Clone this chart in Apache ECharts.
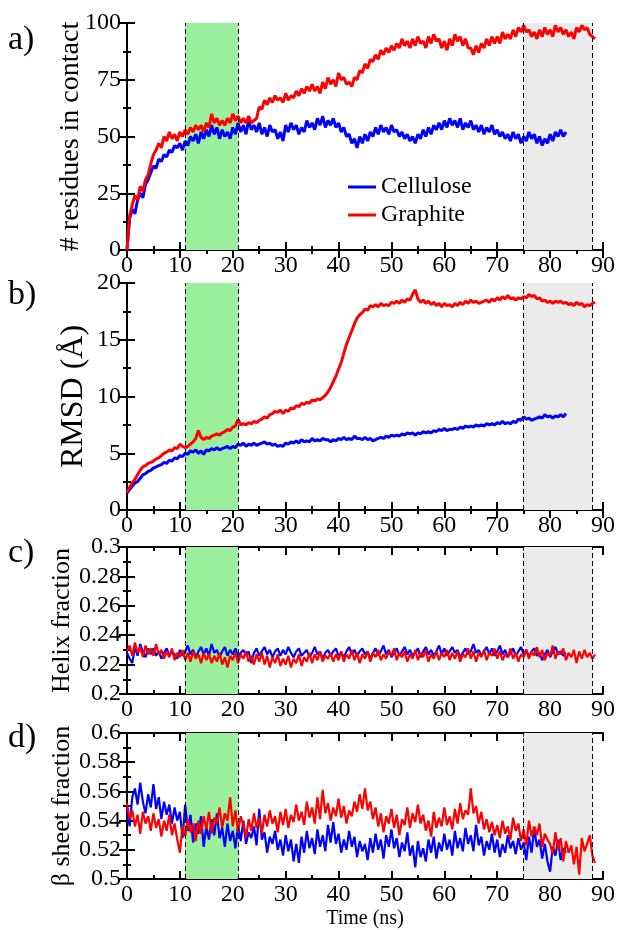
<!DOCTYPE html>
<html><head><meta charset="utf-8">
<script src="https://cdn.jsdelivr.net/npm/echarts@6/dist/echarts.min.js"></script>
<style>html,body{margin:0;padding:0;background:#fff}#c{width:621px;height:930px}</style>
</head><body><div id="c"></div>
<script>
const DT = 0.5; // ns between samples
const seriesNames = ['Cellulose', 'Graphite'];
const panelLabels = ['a)', 'b)', 'c)', 'd)'];
const yTitles = ['# residues in contact', 'RMSD (\u00C5)', 'Helix fraction', '\u03B2 sheet fraction'];
const xTitle = 'Time (ns)';
const greenWindow = [11, 21];
const grayWindow = [75, 88];

const contactCellulose = [
0,14,18,16,22,25,23,29,31,34,
37,36,40,39,42,41,44,43,46,45,
47,44,48,46,50,48,51,47,52,49,
53,50,55,51,54,49,53,50,52,49,
54,51,56,52,55,51,57,53,55,52,
56,51,54,50,55,52,53,49,52,48,
55,52,56,53,55,51,54,52,57,54,
56,53,58,55,59,54,57,55,58,54,
56,52,54,50,51,47,49,45,50,47,
51,48,52,50,54,51,55,52,54,51,
55,52,53,50,52,49,51,48,50,47,
51,49,53,50,54,51,55,53,56,53,
57,54,58,55,57,54,58,53,56,54,
57,53,55,52,55,51,54,52,55,51,
53,50,52,49,51,48,52,49,51,47,
50,48,52,49,51,47,50,46,49,47,
51,48,52,50,53,50,52];
const contactGraphite = [
0,15,20,24,22,28,26,31,33,38,
42,44,47,45,50,48,52,49,51,48,
52,50,53,51,54,52,55,53,55,52,
56,54,60,56,58,55,57,55,58,56,
60,57,59,56,58,56,59,56,57,58,
63,62,66,64,67,65,68,66,67,65,
69,66,68,67,70,68,71,69,72,70,
73,70,72,69,74,71,76,73,75,72,
78,75,76,73,74,72,76,75,79,78,
82,80,84,83,86,84,88,86,89,87,
90,88,91,89,93,90,92,89,93,90,
94,91,92,89,94,91,95,92,93,89,
92,88,93,90,95,92,94,90,93,89,
89,86,90,87,91,89,93,90,94,91,
94,91,96,93,95,93,97,94,98,96,
99,96,97,94,96,93,97,94,98,95,
97,94,99,96,98,95,97,94,96,93,
98,96,99,97,98,95,94,93];

const rmsdCellulose = [
1.5,1.8,2.1,2.4,2.5,2.8,3.1,3.2,3.4,3.5,
3.7,3.8,3.9,4.0,4.2,4.1,4.4,4.3,4.6,4.5,
4.8,4.7,5.0,4.9,5.2,5.1,5.3,5.0,5.2,4.9,
5.3,5.2,5.4,5.3,5.5,5.3,5.4,5.5,5.6,5.4,
5.6,5.5,5.8,5.7,5.9,5.6,5.8,5.7,5.9,5.7,
5.8,5.9,6.0,5.8,5.9,5.7,5.8,5.6,5.7,5.6,
5.9,5.8,6.0,5.9,6.1,5.9,6.2,6.0,6.1,6.0,
6.3,6.1,6.2,6.1,6.3,6.2,6.2,6.0,6.2,6.1,
6.3,6.2,6.4,6.2,6.3,6.2,6.5,6.3,6.3,6.2,
6.4,6.2,6.3,6.1,6.2,6.3,6.4,6.3,6.5,6.4,
6.6,6.5,6.6,6.5,6.7,6.6,6.8,6.7,6.8,6.6,
6.8,6.7,6.9,6.8,6.9,6.8,7.0,6.9,7.1,7.0,
7.2,7.0,7.1,7.1,7.2,7.1,7.3,7.2,7.4,7.3,
7.4,7.3,7.5,7.4,7.5,7.4,7.6,7.5,7.6,7.5,
7.7,7.6,7.8,7.6,7.7,7.6,7.8,7.7,8.0,7.9,
8.2,8.0,8.1,7.9,8.0,8.1,8.2,8.1,8.4,8.2,
8.3,8.1,8.3,8.2,8.4,8.2,8.5];
const rmsdGraphite = [
1.5,2.0,2.4,2.7,3.1,3.5,3.8,3.9,4.1,4.2,
4.3,4.5,4.6,4.8,5.0,5.1,5.3,5.2,5.5,5.4,
5.8,5.6,5.5,5.6,5.8,6.0,6.3,7.0,6.4,6.2,
6.4,6.3,6.5,6.6,6.7,6.6,6.8,6.9,7.1,7.0,
7.3,7.4,8.0,7.5,7.6,7.5,7.7,7.6,7.8,7.7,
7.9,8.0,8.2,8.1,8.4,8.5,8.7,8.6,8.8,8.5,
8.8,8.7,9.0,8.9,9.2,9.1,9.4,9.3,9.5,9.4,
9.7,9.6,9.8,9.7,9.9,10.1,10.4,10.8,11.3,11.8,
12.4,13.0,13.8,14.6,15.2,15.8,16.4,16.9,17.2,17.4,
17.7,17.6,18.0,17.9,18.1,17.9,18.2,18.0,18.1,18.0,
18.3,18.2,18.4,18.2,18.5,18.3,18.6,18.5,19.0,19.4,
18.6,18.3,18.5,18.2,18.4,18.1,18.3,18.0,18.2,17.9,
18.2,18.0,18.1,17.9,18.2,18.0,18.3,18.1,18.4,18.2,
18.5,18.3,18.4,18.2,18.3,18.4,18.5,18.3,18.6,18.4,
18.7,18.5,18.8,18.6,18.9,18.6,18.7,18.5,18.7,18.6,
18.8,18.7,19.0,18.8,18.9,18.6,18.7,18.4,18.5,18.3,
18.4,18.2,18.4,18.3,18.4,18.2,18.3,18.1,18.2,18.0,
18.3,18.1,18.2,17.9,18.1,18.0,18.2,18.3];

const helixCellulose = [
0.228,0.224,0.221,0.232,0.226,0.234,0.229,0.225,0.231,0.227,
0.231,0.226,0.229,0.224,0.228,0.231,0.226,0.229,0.227,0.224,
0.230,0.226,0.229,0.233,0.227,0.230,0.225,0.229,0.232,0.227,
0.231,0.226,0.234,0.228,0.230,0.225,0.229,0.232,0.226,0.230,
0.227,0.231,0.225,0.228,0.230,0.226,0.229,0.221,0.228,0.231,
0.226,0.229,0.232,0.227,0.230,0.225,0.229,0.231,0.226,0.230,
0.227,0.232,0.228,0.225,0.229,0.231,0.226,0.228,0.230,0.225,
0.228,0.232,0.227,0.229,0.224,0.228,0.230,0.226,0.229,0.231,
0.226,0.228,0.225,0.229,0.232,0.227,0.230,0.226,0.229,0.231,
0.227,0.229,0.224,0.228,0.231,0.226,0.229,0.233,0.227,0.230,
0.225,0.228,0.231,0.226,0.229,0.232,0.227,0.230,0.226,0.228,
0.231,0.225,0.229,0.232,0.227,0.230,0.226,0.229,0.233,0.227,
0.231,0.226,0.229,0.232,0.228,0.230,0.225,0.228,0.231,0.227,
0.229,0.234,0.228,0.230,0.226,0.229,0.232,0.227,0.231,0.226,
0.229,0.233,0.227,0.230,0.225,0.228,0.231,0.226,0.229,0.232,
0.227,0.230,0.225,0.229,0.231,0.226,0.228,0.223,0.227,0.230,
0.225,0.229,0.232,0.227,0.229,0.226,0.228];
const helixGraphite = [
0.229,0.233,0.226,0.235,0.228,0.232,0.225,0.233,0.227,0.231,
0.226,0.234,0.227,0.230,0.224,0.229,0.225,0.231,0.223,0.228,
0.225,0.230,0.223,0.228,0.222,0.229,0.224,0.227,0.221,0.228,
0.223,0.227,0.221,0.226,0.222,0.228,0.220,0.225,0.218,0.226,
0.223,0.228,0.221,0.227,0.224,0.229,0.222,0.226,0.220,0.227,
0.222,0.228,0.220,0.226,0.218,0.225,0.221,0.227,0.219,0.224,
0.220,0.226,0.218,0.224,0.221,0.227,0.219,0.225,0.222,0.228,
0.221,0.227,0.223,0.229,0.222,0.226,0.224,0.228,0.222,0.227,
0.223,0.229,0.222,0.227,0.224,0.230,0.223,0.228,0.221,0.227,
0.224,0.229,0.222,0.228,0.225,0.230,0.223,0.227,0.224,0.229,
0.226,0.231,0.223,0.228,0.225,0.229,0.222,0.227,0.224,0.230,
0.223,0.228,0.225,0.230,0.222,0.227,0.224,0.229,0.223,0.228,
0.225,0.230,0.223,0.228,0.224,0.229,0.222,0.227,0.225,0.231,
0.224,0.229,0.222,0.228,0.225,0.230,0.223,0.228,0.226,0.231,
0.224,0.229,0.223,0.227,0.225,0.231,0.224,0.228,0.222,0.227,
0.225,0.230,0.224,0.229,0.226,0.232,0.225,0.230,0.223,0.228,
0.226,0.233,0.224,0.229,0.227,0.231,0.223,0.228,0.225,0.230,
0.221,0.229,0.224,0.230,0.225,0.228,0.224,0.227];

const sheetCellulose = [
0.548,0.536,0.556,0.562,0.551,0.566,0.553,0.545,0.558,0.549,
0.565,0.548,0.556,0.541,0.553,0.544,0.551,0.538,0.549,0.540,
0.546,0.528,0.551,0.533,0.544,0.525,0.538,0.531,0.543,0.522,
0.536,0.527,0.541,0.530,0.545,0.528,0.535,0.522,0.538,0.526,
0.533,0.521,0.537,0.526,0.540,0.524,0.532,0.528,0.536,0.523,
0.548,0.527,0.532,0.518,0.529,0.524,0.533,0.520,0.527,0.516,
0.530,0.519,0.527,0.512,0.524,0.511,0.529,0.518,0.533,0.521,
0.528,0.517,0.534,0.522,0.530,0.519,0.537,0.525,0.539,0.524,
0.531,0.518,0.527,0.520,0.533,0.522,0.529,0.515,0.526,0.519,
0.524,0.513,0.528,0.518,0.531,0.520,0.527,0.514,0.530,0.522,
0.534,0.521,0.528,0.515,0.525,0.519,0.532,0.516,0.523,0.508,
0.526,0.515,0.521,0.512,0.527,0.518,0.529,0.514,0.525,0.519,
0.531,0.520,0.527,0.516,0.533,0.521,0.528,0.519,0.535,0.524,
0.530,0.519,0.537,0.523,0.529,0.516,0.526,0.520,0.531,0.518,
0.527,0.515,0.524,0.518,0.530,0.521,0.526,0.517,0.528,0.520,
0.525,0.513,0.529,0.518,0.535,0.522,0.527,0.514,0.524,0.512,
0.505,0.522,0.516,0.527,0.513,0.521,0.518];
const sheetGraphite = [
0.552,0.541,0.547,0.536,0.544,0.531,0.546,0.538,0.543,0.533,
0.545,0.535,0.541,0.529,0.540,0.533,0.544,0.530,0.538,0.527,
0.518,0.537,0.529,0.541,0.532,0.538,0.526,0.540,0.531,0.543,
0.534,0.546,0.531,0.542,0.538,0.549,0.535,0.545,0.540,0.556,
0.536,0.547,0.532,0.543,0.537,0.528,0.541,0.533,0.545,0.535,
0.542,0.531,0.544,0.536,0.547,0.538,0.543,0.532,0.546,0.537,
0.548,0.535,0.544,0.539,0.551,0.540,0.546,0.537,0.553,0.542,
0.549,0.538,0.556,0.541,0.561,0.545,0.552,0.540,0.549,0.543,
0.555,0.542,0.550,0.538,0.547,0.543,0.553,0.546,0.558,0.548,
0.562,0.547,0.553,0.541,0.549,0.536,0.545,0.532,0.543,0.538,
0.548,0.535,0.544,0.530,0.541,0.537,0.549,0.535,0.545,0.539,
0.551,0.538,0.544,0.533,0.540,0.529,0.546,0.535,0.542,0.536,
0.549,0.537,0.543,0.534,0.548,0.538,0.552,0.541,0.547,0.544,
0.562,0.545,0.550,0.538,0.546,0.534,0.541,0.532,0.539,0.530,
0.537,0.528,0.540,0.531,0.536,0.527,0.542,0.533,0.538,0.526,
0.534,0.523,0.540,0.529,0.536,0.530,0.538,0.522,0.531,0.527,
0.524,0.517,0.532,0.520,0.528,0.512,0.526,0.518,0.523,0.510,
0.522,0.503,0.528,0.519,0.524,0.530,0.516,0.511];

const panels = [
  {blue: contactCellulose, red: contactGraphite, min: 0, max: 100, interval: 25},
  {blue: rmsdCellulose, red: rmsdGraphite, min: 0, max: 20, interval: 5},
  {blue: helixCellulose, red: helixGraphite, min: 0.2, max: 0.3, interval: 0.02},
  {blue: sheetCellulose, red: sheetGraphite, min: 0.5, max: 0.6, interval: 0.02}
];
const gridBoxes = [{top: 23, height: 227}, {top: 283, height: 227}, {top: 547, height: 147}, {top: 733, height: 146}];
const nameGaps = [42, 37, 52, 52];
const titleSizes = [28, 32, 26, 26];
const lineWidths = [3, 3, 2.2, 2.2];
const letterTops = [0, -5, -11, -12];
const FONT = 'Liberation Serif';
const pts = arr => arr.map((v, i) => [i * DT, v]);

const grid = [], xAxis = [], yAxis = [], series = [], graphic = [];
const lineAx = {show: true, lineStyle: {color: '#000', width: 2}};
const tick = {show: true, inside: true, length: 8, lineStyle: {color: '#000', width: 2}};
const minor = {show: true, splitNumber: 2, length: 4, lineStyle: {color: '#000', width: 2}};

panels.forEach((p, i) => {
  grid.push({left: 127, width: 476, top: gridBoxes[i].top, height: gridBoxes[i].height});
  xAxis.push({type: 'value', gridIndex: i, min: 0, max: 90, interval: 10, position: 'bottom',
    axisLine: lineAx, axisTick: tick, minorTick: minor, splitLine: {show: false},
    axisLabel: {color: '#000', fontFamily: FONT, fontSize: 24, margin: 4},
    name: i === 3 ? xTitle : '', nameLocation: 'middle', nameGap: 30, nameMoveOverlap: false,
    nameTextStyle: {color: '#000', fontFamily: FONT, fontSize: 20}});
  xAxis.push({type: 'value', gridIndex: i, min: 0, max: 90, interval: 10, position: 'top',
    axisLine: lineAx, axisTick: tick, minorTick: minor, splitLine: {show: false}, axisLabel: {show: false}});
  yAxis.push({type: 'value', gridIndex: i, min: p.min, max: p.max, interval: p.interval, position: 'left',
    axisLine: lineAx, axisTick: tick, minorTick: minor, splitLine: {show: false},
    axisLabel: {color: '#000', fontFamily: FONT, fontSize: 24, margin: 6},
    name: yTitles[i], nameLocation: 'middle', nameGap: nameGaps[i], nameMoveOverlap: false,
    nameTextStyle: {color: '#000', fontFamily: FONT, fontSize: titleSizes[i]}});
  yAxis.push({type: 'value', gridIndex: i, min: p.min, max: p.max, interval: p.interval, position: 'right',
    axisLine: lineAx, axisTick: tick, minorTick: minor, splitLine: {show: false}, axisLabel: {show: false}});
  series.push({name: seriesNames[0], type: 'line', xAxisIndex: 2 * i, yAxisIndex: 2 * i,
    data: pts(p.blue), showSymbol: false, symbol: 'none', lineStyle: {color: '#0000ff', width: lineWidths[i]}, itemStyle: {color: '#0000ff'},
    markArea: {silent: true, data: [
      [{xAxis: greenWindow[0], itemStyle: {color: '#9cef9c'}}, {xAxis: greenWindow[1]}],
      [{xAxis: grayWindow[0], itemStyle: {color: '#ebebeb'}}, {xAxis: grayWindow[1]}]]},
    markLine: {silent: true, symbol: 'none', label: {show: false},
      lineStyle: {color: '#000', type: [5, 3], width: 1},
      data: [{xAxis: greenWindow[0]}, {xAxis: greenWindow[1]}, {xAxis: grayWindow[0]}, {xAxis: grayWindow[1]}]}});
  series.push({name: seriesNames[1], type: 'line', xAxisIndex: 2 * i, yAxisIndex: 2 * i,
    data: pts(p.red), showSymbol: false, symbol: 'none', lineStyle: {color: '#ff0000', width: lineWidths[i]}, itemStyle: {color: '#ff0000'}});
  graphic.push({type: 'text', left: 8, top: gridBoxes[i].top + letterTops[i],
    style: {text: panelLabels[i], font: '34px "Liberation Serif"', fill: '#000'}});
});

const chart = echarts.init(document.getElementById('c'));
chart.setOption({
  animation: false,
  backgroundColor: '#fff',
  grid, xAxis, yAxis, series, graphic,
  legend: {data: seriesNames, orient: 'vertical', left: 343, top: 170, icon: 'rect', itemWidth: 28, itemHeight: 3,
    itemGap: 4, textStyle: {color: '#000', fontFamily: FONT, fontSize: 24}, selectedMode: false}
});
</script></body></html>
